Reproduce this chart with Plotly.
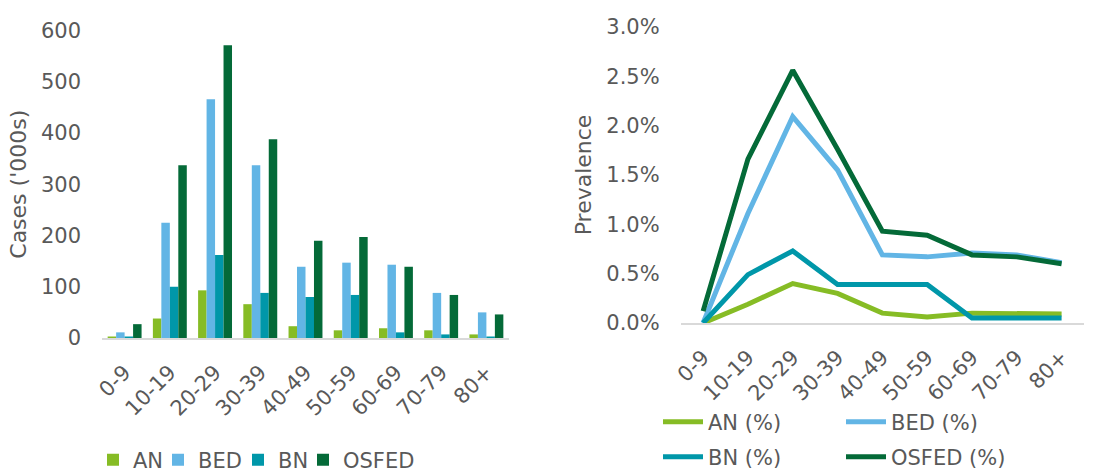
import plotly.graph_objects as go

age_groups = ["0-9", "10-19", "20-29", "30-39", "40-49", "50-59", "60-69", "70-79", "80+"]

# Cases ('000s)
cases_an = [2, 38, 93, 66, 23, 15, 19, 15, 7]
cases_bed = [11, 225, 466, 337, 139, 147, 143, 88, 50]
cases_bn = [1, 100, 162, 88, 80, 84, 11, 7, 2]
cases_osfed = [27, 337, 571, 388, 190, 197, 139, 84, 46]

# Prevalence (fraction)
prev_an = [0.0000, 0.0019, 0.0040, 0.0030, 0.0010, 0.0006, 0.0010, 0.0009, 0.0009]
prev_bed = [0.0000, 0.0111, 0.0209, 0.0155, 0.0069, 0.0067, 0.0071, 0.0069, 0.0061]
prev_bn = [0.0000, 0.0049, 0.0073, 0.0039, 0.0039, 0.0039, 0.0005, 0.0005, 0.0005]
prev_osfed = [0.0012, 0.0166, 0.0256, 0.0176, 0.0093, 0.0089, 0.0069, 0.0067, 0.0060]

series_names = ["AN", "BED", "BN", "OSFED"]
colors = {"AN": "#86BC25", "BED": "#62B5E5", "BN": "#0097A9", "OSFED": "#046A38"}
FONT = "Verdana, DejaVu Sans, sans-serif"
GRAY = "#595959"
W, H = 1103, 472

fig = go.Figure()

bar_legends = {"AN": "legend", "BED": "legend4", "BN": "legend5", "OSFED": "legend6"}
for name, vals in zip(series_names, [cases_an, cases_bed, cases_bn, cases_osfed]):
    fig.add_trace(go.Bar(x=age_groups, y=vals, name=name, marker_color=colors[name],
                         marker_line_width=0, xaxis="x", yaxis="y", legend=bar_legends[name]))

line_rows = {"AN": "legend2", "BED": "legend2", "BN": "legend3", "OSFED": "legend3"}
for name, vals in zip(series_names, [prev_an, prev_bed, prev_bn, prev_osfed]):
    fig.add_trace(go.Scatter(x=age_groups, y=vals, name=name + " (%)", mode="lines",
                             line=dict(color=colors[name], width=5), cliponaxis=False,
                             xaxis="x2", yaxis="y2", legend=line_rows[name]))

tickfont = dict(family=FONT, size=21, color=GRAY)
titlefont = dict(family=FONT, size=22, color=GRAY)
legfont = dict(family=FONT, size=21, color=GRAY)


def bar_legend(xpx):
    return dict(orientation="h", x=xpx / W, xanchor="left", y=1 - 460 / H, yanchor="middle",
                font=legfont, bgcolor="rgba(0,0,0,0)")


fig.update_layout(
    width=W, height=H,
    margin=dict(l=0, r=0, t=0, b=0, autoexpand=False),
    paper_bgcolor="white", plot_bgcolor="white",
    font=dict(family=FONT, size=20, color=GRAY),
    bargap=0.25, bargroupgap=0,
    showlegend=True,
    xaxis=dict(domain=[102 / W, 509 / W], showline=True, linecolor="#D9D9D9", linewidth=1.5,
               tickangle=-45, tickfont=tickfont, ticks="", ticklabelstandoff=12,
               showgrid=False, zeroline=False, anchor="y", automargin=False,
               range=[-0.5, 8.5]),
    yaxis=dict(domain=[1 - 338 / H, 1 - 30.5 / H], range=[0, 600], dtick=100,
               showgrid=False, zeroline=False, showline=False, tickfont=tickfont,
               ticklabelstandoff=20, anchor="x", automargin=False,
               title=dict(text="Cases ('000s)", font=titlefont, standoff=8)),
    xaxis2=dict(domain=[680.7 / W, 1084 / W], showline=True, linecolor="#D9D9D9", linewidth=1.5,
                tickangle=-45, tickfont=tickfont, ticks="", ticklabelstandoff=12,
                showgrid=False, zeroline=False, anchor="y2", automargin=False,
                range=[-0.5, 8.5]),
    yaxis2=dict(domain=[1 - 323 / H, 1 - 26.9 / H], range=[0, 0.03], dtick=0.005, tickformat=".1%",
                showgrid=False, zeroline=False, showline=False, tickfont=tickfont,
                ticklabelstandoff=20, anchor="x2", automargin=False,
                title=dict(text="Prevalence", font=titlefont, standoff=8)),
    legend=bar_legend(93),
    legend4=bar_legend(158),
    legend5=bar_legend(238),
    legend6=bar_legend(303),
    legend2=dict(orientation="h", x=658 / W, xanchor="left", y=1 - 422 / H, yanchor="middle",
                 font=legfont, bgcolor="rgba(0,0,0,0)",
                 entrywidth=128, itemwidth=40),
    legend3=dict(orientation="h", x=658 / W, xanchor="left", y=1 - 457 / H, yanchor="middle",
                 font=legfont, bgcolor="rgba(0,0,0,0)",
                 entrywidth=128, itemwidth=40),
)

fig.write_html("out.html")
